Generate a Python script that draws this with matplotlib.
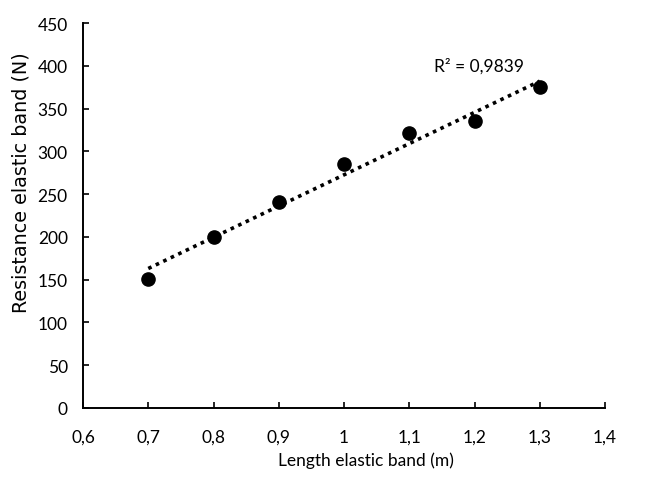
import matplotlib.pyplot as plt
import numpy as np

# data
length_m = [0.7, 0.8, 0.9, 1.0, 1.1, 1.2, 1.3]
resistance_n = [151, 200, 241, 285, 321, 335, 375]
x_ticks = [0.6, 0.7, 0.8, 0.9, 1.0, 1.1, 1.2, 1.3, 1.4]
x_tick_labels = ['0,6', '0,7', '0,8', '0,9', '1', '1,1', '1,2', '1,3', '1,4']
y_ticks = [0, 50, 100, 150, 200, 250, 300, 350, 400, 450]
r2_label = 'R² = 0,9839'

tick_font = 'Lato'

fig = plt.figure(figsize=(6.68, 4.81), dpi=100)
ax = fig.add_axes([0.1243, 0.1497, 0.7814, 0.8003])

# linear trendline
k, b = np.polyfit(length_m, resistance_n, 1)
xs = np.array([length_m[0], length_m[-1]])
ax.plot(xs, k * xs + b, color='black', ls=(0, (1, 1.3)), lw=2.6, zorder=2)

ax.plot(length_m, resistance_n, 'o', color='black', ms=9.5, zorder=3)

ax.text(1.138, 400, r2_label, fontsize=12.5, family=tick_font, va='center')

ax.set_xlim(0.6, 1.4)
ax.set_ylim(0, 450)
ax.set_xticks(x_ticks)
ax.set_xticklabels(x_tick_labels)
ax.set_yticks(y_ticks)

for s in ['top', 'right']:
    ax.spines[s].set_visible(False)
for s in ['left', 'bottom']:
    ax.spines[s].set_linewidth(1.4)

ax.tick_params(direction='in', length=4, width=1.2, labelsize=12.5)
ax.tick_params(axis='x', pad=15)
ax.tick_params(axis='y', pad=11)
for lab in ax.get_xticklabels() + ax.get_yticklabels():
    lab.set_family(tick_font)

ax.set_xlabel('Length elastic band (m)', fontsize=12.5, family=tick_font,
              labelpad=5, x=0.542)
ax.set_ylabel('Resistance elastic band (N)', fontsize=13.8, family='DejaVu Sans',
              labelpad=5, y=0.587)

fig.savefig('out.png', dpi=100)
